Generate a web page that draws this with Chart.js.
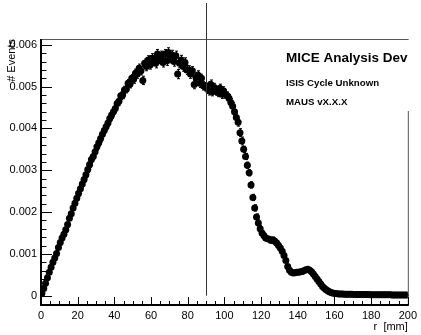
<!DOCTYPE html>
<html>
<head>
<meta charset="utf-8">
<script src="https://cdn.jsdelivr.net/npm/chart.js@4"></script>
<style>
  html, body { margin: 0; padding: 0; background: #fff; }
  #wrap { width: 421px; height: 335px; }
</style>
</head>
<body>
<div id="wrap"><canvas id="r-hist" width="421" height="335"></canvas></div>
<script>
// r distribution, 1 mm bins from 0 to 200 mm, bin contents in units of 1e-6
const binWidth = 1;
const eventsE6 = [
    60, 170, 300, 430, 560, 680, 800, 900, 1010, 1150,
    1270, 1380, 1470, 1580, 1700, 1850, 1960, 2100, 2210, 2330,
    2450, 2560, 2670, 2780, 2890, 3020, 3140, 3260, 3330, 3440,
    3560, 3660, 3760, 3860, 3950, 4040, 4130, 4240, 4320, 4400,
    4480, 4600, 4650, 4780, 4800, 4920, 4940, 5080, 5060, 5200,
    5180, 5320, 5300, 5440, 5380, 5150, 5560, 5480, 5640, 5520,
    5680, 5640, 5560, 5780, 5660, 5740, 5580, 5780, 5620, 5820,
    5680, 5760, 5600, 5740, 5300, 5560, 5640, 5480, 5580, 5400,
    5400, 5300, 5380, 5050, 5220, 5280, 5080, 5200, 5020, 5000,
    4980, 4900, 5060, 4880, 4980, 4900, 4860, 4960, 4820, 4900,
    4820, 4780, 4720, 4620, 4530, 4400, 4260, 4150, 3900, 3700,
    3500, 3330, 3120, 2940, 2650, 2350, 2100, 1880, 1740, 1600,
    1500, 1440, 1380, 1360, 1350, 1320, 1340, 1300, 1260, 1200,
    1140, 1060, 960, 840, 700, 610, 560, 540, 550, 560,
    560, 570, 580, 600, 620, 630, 610, 570, 520, 460,
    400, 340, 280, 220, 180, 140, 110, 90, 70, 60,
    50, 45, 42, 40, 38, 36, 35, 34, 33, 32,
    30, 30, 29, 28, 28, 27, 27, 26, 26, 25,
    25, 24, 24, 23, 23, 22, 22, 21, 21, 20,
    20, 19, 19, 18, 18, 17, 17, 16, 16, 15
];
// error bar half-size per 10 mm band (1e-6)
const errorsE6 = [40, 55, 70, 80, 90, 100, 110, 110, 100, 100,
                  95, 75, 55, 45, 40, 25, 10, 10, 10, 10];
const xTicks = [0, 20, 40, 60, 80, 100, 120, 140, 160, 180, 200];
const yTicks = [0, 0.001, 0.002, 0.003, 0.004, 0.005, 0.006];
const legendLines = ['MICE Analysis Dev', 'ISIS Cycle Unknown', 'MAUS vX.X.X'];
const cutR = 90;

const points = eventsE6.map((v, i) => ({
    x: (i + 0.5) * binWidth,
    y: v * 1e-6,
    err: errorsE6[Math.floor(i / 10)] * 1e-6
}));

const FONT = "'Liberation Sans', Arial, sans-serif";

// vertical error bars under the markers
const errorBars = {
    id: 'errorBars',
    beforeDatasetsDraw(chart) {
        const { ctx, scales: { x, y } } = chart;
        ctx.save();
        ctx.strokeStyle = '#000';
        ctx.lineWidth = 1;
        ctx.beginPath();
        points.forEach(p => {
            const px = Math.round(x.getPixelForValue(p.x)) + 0.5;
            const top = y.getPixelForValue(p.y + p.err);
            const bot = y.getPixelForValue(p.y - p.err);
            ctx.moveTo(px, top); ctx.lineTo(px, bot);
            ctx.moveTo(px - 1.5, top); ctx.lineTo(px + 1.5, top);
            ctx.moveTo(px - 1.5, bot); ctx.lineTo(px + 1.5, bot);
        });
        ctx.stroke();
        ctx.restore();
    }
};

// ROOT style frame with ticks pointing inwards
const frame = {
    id: 'frame',
    afterDatasetsDraw(chart) {
        const { ctx, chartArea: a, scales: { x, y } } = chart;
        ctx.save();
        ctx.strokeStyle = '#555';
        ctx.lineWidth = 1;
        ctx.beginPath();
        ctx.moveTo(a.left, a.top + 0.5); ctx.lineTo(a.right + 0.5, a.top + 0.5);
        ctx.lineTo(a.right + 0.5, a.bottom);
        ctx.stroke();

        ctx.strokeStyle = '#000';
        ctx.beginPath();
        // y ticks
        for (let v = -0.0002; v < y.max; v += 0.0002) {
            const py = Math.round(y.getPixelForValue(v)) + 0.5;
            const major = Math.abs(v / 0.001 - Math.round(v / 0.001)) < 1e-6;
            ctx.moveTo(a.left, py); ctx.lineTo(a.left + (major ? 11 : 5.5), py);
        }
        // x ticks
        for (let v = 0; v <= 200; v += 5) {
            const px = Math.round(x.getPixelForValue(v)) + 0.5;
            const major = v % 20 === 0;
            ctx.moveTo(px, a.bottom); ctx.lineTo(px, a.bottom - (major ? 8 : 4));
        }
        ctx.stroke();

        ctx.lineWidth = 2;
        ctx.beginPath();
        ctx.moveTo(a.left, a.top); ctx.lineTo(a.left, a.bottom);
        ctx.lineTo(a.right + 1, a.bottom);
        ctx.stroke();
        ctx.restore();
    },
    afterDraw(chart) {
        const { ctx, chartArea: a, scales: { x, y } } = chart;
        ctx.save();
        // info box
        ctx.fillStyle = '#fff';
        ctx.fillRect(283, a.top + 1, 131, 71);
        ctx.fillStyle = '#000';
        ctx.textBaseline = 'middle';
        ctx.font = 'bold 13.5px ' + FONT;
        ctx.fillText(legendLines[0], 286, 58);
        ctx.font = 'bold 9.7px ' + FONT;
        ctx.fillText(legendLines[1], 286, 83);
        ctx.fillText(legendLines[2], 286, 102);
        // cut line at r = 90 mm
        const px = Math.round(x.getPixelForValue(cutR)) + 0.5;
        ctx.strokeStyle = '#333';
        ctx.lineWidth = 1;
        ctx.beginPath();
        ctx.moveTo(px, 3);
        ctx.lineTo(px, y.getPixelForValue(0));
        ctx.stroke();
        ctx.restore();
    }
};

new Chart(document.getElementById('r-hist'), {
    type: 'scatter',
    data: {
        datasets: [{
            data: points,
            backgroundColor: '#000',
            borderWidth: 0,
            pointRadius: 3.5,
            pointHoverRadius: 3.5
        }]
    },
    options: {
        responsive: false,
        animation: false,
        devicePixelRatio: 1,
        layout: { padding: { top: 39, right: 10, left: 0, bottom: 0 } },
        plugins: { legend: { display: false }, tooltip: { enabled: false } },
        scales: {
            x: {
                type: 'linear',
                min: 0,
                max: 200,
                afterFit: s => { s.height = 30; },
                afterBuildTicks: s => { s.ticks = xTicks.map(v => ({ value: v })); },
                grid: { display: false, drawTicks: false },
                border: { display: false },
                ticks: {
                    autoSkip: false, maxRotation: 0, padding: 4, color: '#000',
                    font: { family: FONT, size: 11 }
                },
                title: {
                    display: true, text: 'r  [mm]', align: 'end', color: '#000',
                    font: { family: FONT, size: 11 }, padding: { top: 0, bottom: 1 }
                }
            },
            y: {
                min: -0.000223,
                max: 0.00614,
                afterFit: s => { s.width = 41; },
                afterBuildTicks: s => { s.ticks = yTicks.map(v => ({ value: v })); },
                grid: { display: false, drawTicks: false },
                border: { display: false },
                ticks: {
                    padding: 4, color: '#000',
                    font: { family: FONT, size: 11 },
                    callback: v => v === 0 ? '0' : v.toFixed(3)
                },
                title: {
                    display: true, text: '# Events', align: 'end', color: '#000',
                    font: { family: FONT, size: 11 }, padding: { top: 5, bottom: 0 }
                }
            }
        }
    },
    plugins: [errorBars, frame]
});
</script>
</body>
</html>
